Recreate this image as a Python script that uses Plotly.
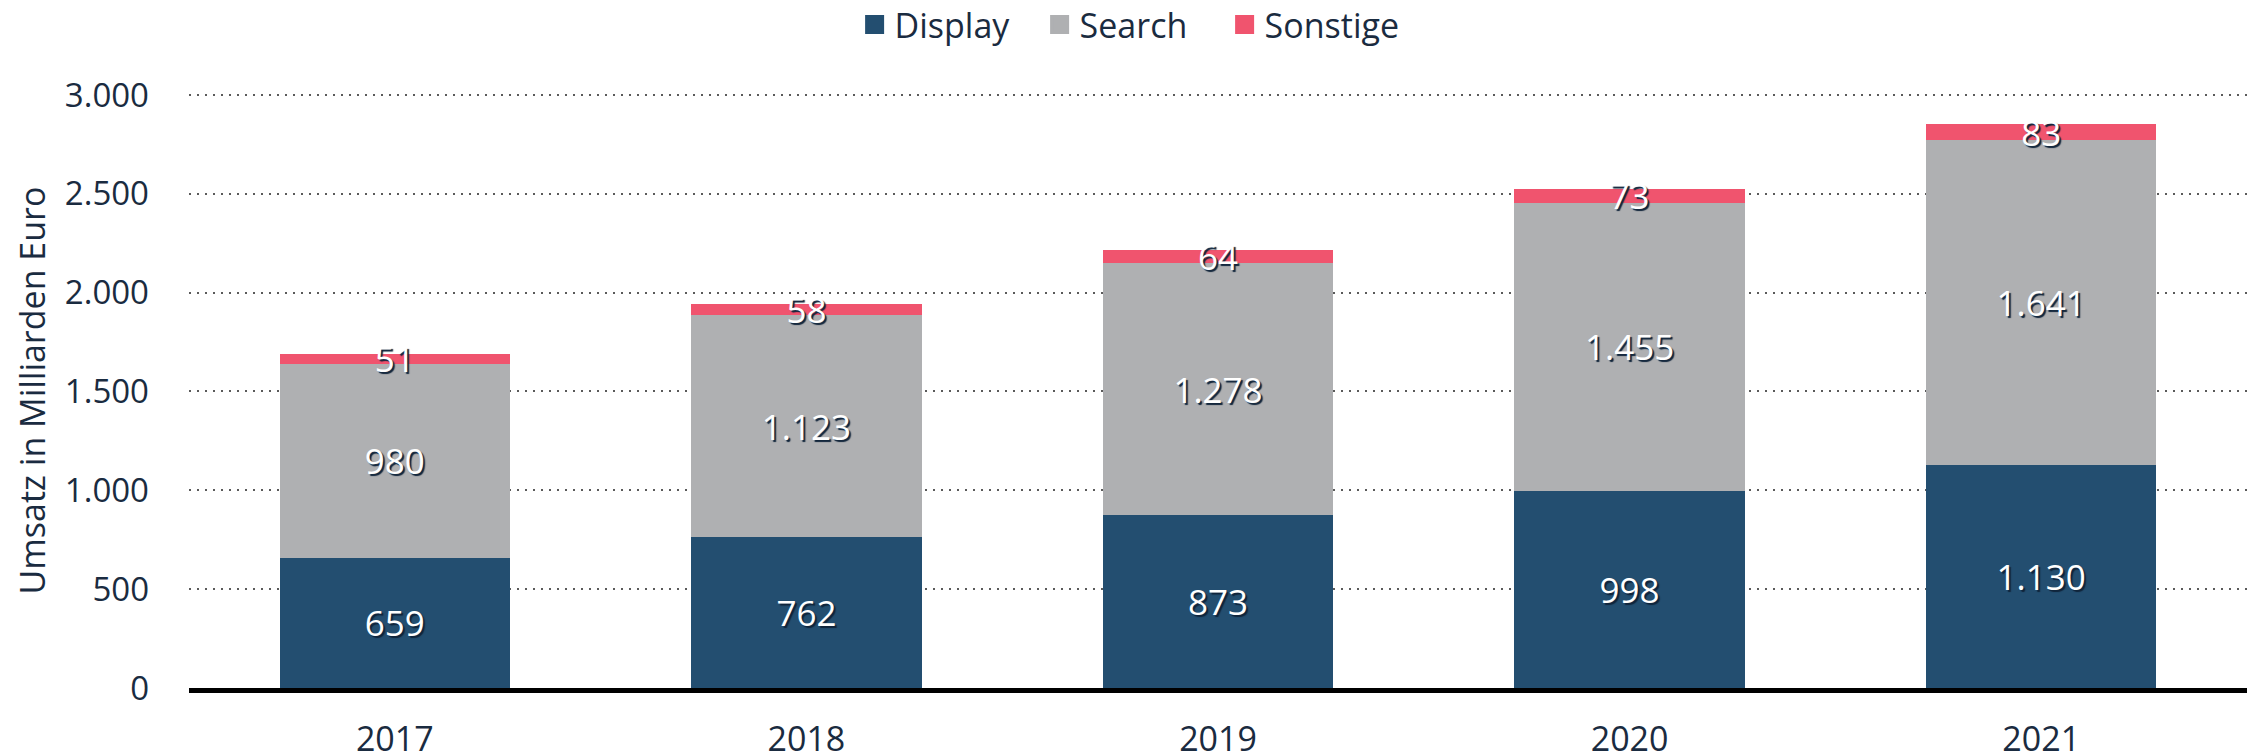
import plotly.graph_objects as go

years = ["2017", "2018", "2019", "2020", "2021"]
display = [659, 762, 873, 998, 1130]
search = [980, 1123, 1278, 1455, 1641]
sonstige = [51, 58, 64, 73, 83]
y_ticks = [0, 500, 1000, 1500, 2000, 2500, 3000]

series = [
    ("Display", display, "#234e70"),
    ("Search", search, "#afb0b2"),
    ("Sonstige", sonstige, "#f0546e"),
]

fig = go.Figure()
for name, vals, col in series:
    fig.add_trace(go.Bar(
        name=name, x=years, y=vals, showlegend=False, legendgroup=name,
        marker=dict(color=col, line=dict(width=0)),
        texttemplate="%{y:,.0f}",
        textposition="inside",
        insidetextanchor="middle",
        constraintext="none",
        textangle=0,
        textfont=dict(family="Open Sans", size=35, color="white",
                      shadow="2px 2px 1px #10243a"),
        hoverinfo="skip",
    ))
# legend entries (square swatches)
for name, vals, col in series:
    fig.add_trace(go.Scatter(
        name=name, x=[None], y=[None], mode="markers", legendgroup=name,
        marker=dict(symbol="square", size=16, color=col, line=dict(width=3, color=col)),
        showlegend=True, hoverinfo="skip",
    ))

fig.update_layout(
    width=2257, height=756,
    barmode="stack", bargap=0.44,
    separators=",.",
    paper_bgcolor="white", plot_bgcolor="white",
    margin=dict(l=189, r=10, t=93, b=68, autoexpand=False),
    font=dict(family="Open Sans", size=33, color="#1a2b40"),
    legend=dict(orientation="h", x=0.5016, xanchor="center", xref="container",
                y=1 - 25 / 756, yref="container",
                yanchor="middle", font=dict(size=34, color="#1a2b40"),
                itemsizing="trace", traceorder="normal",
                entrywidth=140, entrywidthmode="pixels"),
    xaxis=dict(type="category", range=[-0.5, 4.5], showline=True, linecolor="black",
               linewidth=5, ticks="", showgrid=False, automargin=False,
               tickfont=dict(size=34, color="#1a2b40"), ticklabelstandoff=17),
    yaxis=dict(range=[0, 3010], tickvals=y_ticks, tickformat=",.0f",
               showgrid=True, gridcolor="#5a5a5a", gridwidth=2, griddash="2px,6px",
               zeroline=False, showline=False, ticks="", automargin=False,
               ticklabelstandoff=39,
               tickfont=dict(size=33, color="#1a2b40"),
               title=dict(text="Umsatz in Milliarden Euro", standoff=8,
                          font=dict(size=34, color="#1a2b40"))),
)

fig.write_html("out.html", config={"displayModeBar": False},
               post_script="document.body.style.margin='0';document.body.style.overflow='hidden';")
